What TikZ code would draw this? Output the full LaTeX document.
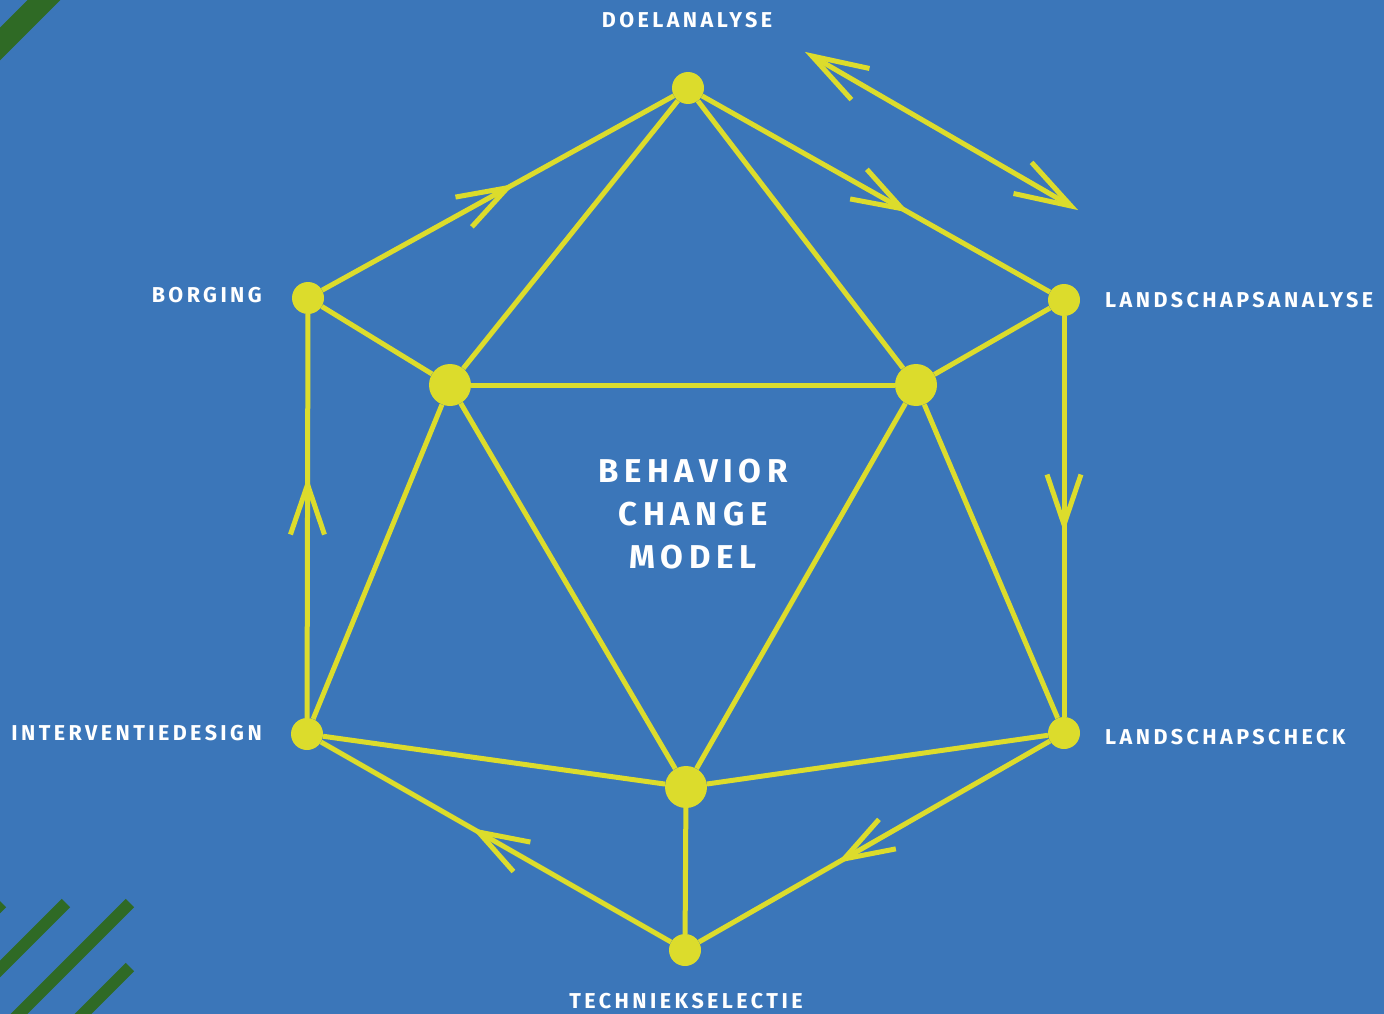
\documentclass[tikz,border=0pt]{standalone}
\usepackage{fontspec}
\setmainfont{Fira Sans}
\usetikzlibrary{decorations.markings}
\definecolor{bg}{HTML}{3B76B9}
\definecolor{yl}{HTML}{DCDC2C}
\definecolor{gr}{HTML}{2F6A25}
\begin{document}
\begin{tikzpicture}[x=1pt,y=-1pt,
  edge/.style={draw=yl, line width=5pt},
  dot/.style={circle, fill=yl, inner sep=0pt, minimum size=32pt},
  bigdot/.style={circle, fill=yl, inner sep=0pt, minimum size=42pt},
  lbl/.style={text=white, inner sep=0pt, font=\fontsize{21.5}{24}\selectfont\bfseries\addfontfeatures{LetterSpace=16}},
  chev/.style={draw=yl, line width=5pt, line join=miter, miter limit=20},
  midarrow/.style={postaction={decorate}, decoration={markings,
     mark=at position #1 with {\draw[chev] (-50pt,17pt) -- (0pt,0pt) -- (-50pt,-17pt);}}},
  bothends/.style={postaction={decorate}, decoration={markings,
     mark=at position 0 with {\draw[chev] (56pt,18pt) -- (0pt,0pt) -- (56pt,-18pt);},
     mark=at position 1 with {\draw[chev] (-56pt,18pt) -- (0pt,0pt) -- (-56pt,-18pt);}}},
  stripe/.style={draw=gr, line cap=butt}
]
\useasboundingbox (0,0) rectangle (1384,1014);
\fill[bg] (0,0) rectangle (1384,1014);

\begin{scope}
\clip (0,0) rectangle (1384,1014);
\draw[stripe, line width=23pt] (-30,74) -- (74,-30);
\draw[stripe, line width=12pt] (2,903) -- (-100,1005);
\draw[stripe, line width=12pt] (66,903) -- (-60,1029);
\draw[stripe, line width=12pt] (130,903) -- (10,1023);
\draw[stripe, line width=12pt] (130,967) -- (70,1027);
\end{scope}

% nodes
\node[dot] (D) at (688,88) {};
\node[dot] (B) at (308,298) {};
\node[dot] (LA) at (1064,300) {};
\node[dot] (I) at (307,734) {};
\node[dot] (LC) at (1064,733) {};
\node[dot] (T) at (685,950) {};
\node[bigdot] (IL) at (450,385) {};
\node[bigdot] (IR) at (916,385) {};
\node[bigdot] (IB) at (686,787) {};

% edges
\draw[edge] (D) -- (IL);
\draw[edge] (D) -- (IR);
\draw[edge] (B) -- (IL);
\draw[edge] (LA) -- (IR);
\draw[edge] (IL) -- (IR);
\draw[edge] (IL) -- (I);
\draw[edge] (IL) -- (IB);
\draw[edge] (IR) -- (IB);
\draw[edge] (IR) -- (LC);
\draw[edge] (I) -- (IB);
\draw[edge] (LC) -- (IB);
\draw[edge] (IB) -- (T);
\draw[edge, midarrow=0.527] (B) -- (D);
\draw[edge, midarrow=0.575] (D) -- (LA);
\draw[edge, midarrow=0.52] (LA) -- (LC);
\draw[edge, midarrow=0.587] (LC) -- (T);
\draw[edge, midarrow=0.55] (T) -- (I);
\draw[edge, midarrow=0.578] (I) -- (B);

% double arrow
\coordinate (da1) at (812,56);
\coordinate (da2) at (1071,206);
\draw[edge, bothends] (da1) -- (da2);

% labels
\node[lbl] (lD) at (687,20) {DOELANALYSE};
\node[lbl, anchor=east] (lB) at (262,295) {BORGING};
\node[lbl, anchor=west] (lLA) at (1105,300) {LANDSCHAPSANALYSE};
\node[lbl, anchor=east] (lI) at (262,733) {INTERVENTIEDESIGN};
\node[lbl, anchor=west] (lLC) at (1105,737) {LANDSCHAPSCHECK};
\node[lbl] (lT) at (686,1001) {TECHNIEKSELECTIE};

\node[text=white, align=center, font=\fontsize{33}{43}\selectfont\bfseries\addfontfeatures{LetterSpace=17}] (title) at (693,514) {BEHAVIOR\\CHANGE\\MODEL};
\end{tikzpicture}
\end{document}
